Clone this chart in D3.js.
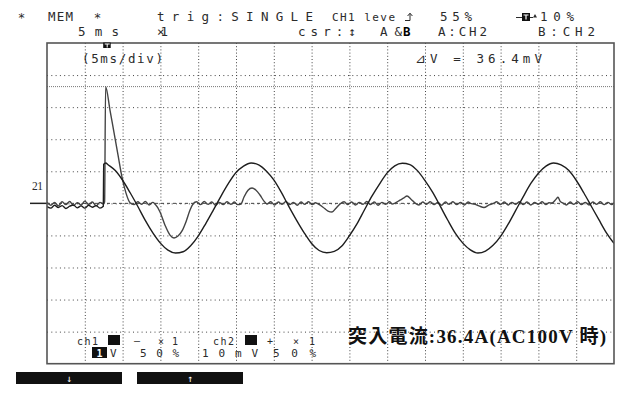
<!DOCTYPE html>
<html>
<head>
<meta charset="utf-8">
<script src="https://cdn.jsdelivr.net/npm/d3@7"></script>
<style>
  html, body { margin: 0; padding: 0; background: #fff; }
  svg { display: block; }
</style>
</head>
<body>
<svg id="scope" width="627" height="401"></svg>
<script>
// ---- acquisition settings ----
const msPerDiv = 5;
const xDivs = 15;
const yDivs = 10;
const ch1VoltsPerDiv = 1;
const ch2mVPerDiv = 10;
const trigPercent = 10;          // trigger position, % of record
const cursorA_mV = 0;            // cursor A on CH2
const cursorB_mV = 36.4;         // cursor B on CH2 (inrush peak)

// ---- CH1: supply voltage (V) ----
const ch1Time = [
  0, 0.5, 1.0, 1.5, 2.0, 2.5, 3.0, 3.5, 4.0, 4.5, 5.0, 5.5, 6.0, 6.5, 7.0, 7.45,
  7.5, 7.8,
  8, 9, 10, 11, 12, 13, 14, 15, 16, 17, 18, 19, 20, 21, 22, 23, 24, 25, 26, 27,
  28, 29, 30, 31, 32, 33, 34, 35, 36, 37, 38, 39, 40, 41, 42, 43, 44, 45, 46, 47,
  48, 49, 50, 51, 52, 53, 54, 55, 56, 57, 58, 59, 60, 61, 62, 63, 64, 65, 66, 67,
  68, 69, 70, 71, 72, 73, 74, 75
];
const ch1Volts = [
  -0.10, -0.15, -0.06, -0.13, -0.07, -0.16, -0.09, -0.05, -0.14, -0.08, -0.15, -0.06, -0.12, -0.07, -0.15, -0.09,
  1.22, 1.26,
  1.22, 1.03, 0.72, 0.33, -0.09, -0.53, -0.92, -1.24, -1.46, -1.55, -1.51, -1.32, -1.02, -0.63, -0.21, 0.22, 0.62, 0.96, 1.16, 1.26,
  1.20, 1.01, 0.73, 0.34, -0.10, -0.52, -0.91, -1.25, -1.47, -1.54, -1.50, -1.33, -1.01, -0.64, -0.20, 0.23, 0.61, 0.95, 1.17, 1.25,
  1.21, 1.02, 0.71, 0.35, -0.08, -0.52, -0.93, -1.24, -1.45, -1.55, -1.49, -1.31, -1.03, -0.65, -0.22, 0.21, 0.62, 0.94, 1.16, 1.26,
  1.20, 1.03, 0.72, 0.33, -0.09, -0.51, -0.92, -1.25
];

// ---- CH2: current probe output (mV) ----
const ch2Time = [
  0, 0.5, 1.0, 1.5, 2.0, 2.5, 3.0, 3.5, 4.0, 4.5, 5.0, 5.5, 6.0, 6.5, 7.0, 7.5,
  7.62, 7.75, 8.33, 8.86, 9.39, 9.92, 10.45, 10.98,
  11.5, 12.0, 12.5, 13.0, 13.5, 14.0,
  14.29, 14.95, 15.61, 16.27, 16.8, 17.33, 17.86, 18.39, 18.92, 19.31,
  19.8, 20.3, 20.8, 21.3, 21.8, 22.3, 22.8, 23.3, 23.8, 24.3, 24.8, 25.2,
  25.66, 26.06, 26.59, 27.12, 27.65, 28.17, 28.7, 29.1,
  29.6, 30.1, 30.6, 31.1, 31.6, 32.1, 32.6, 33.1, 33.6, 34.1, 34.6, 35.1, 35.5,
  35.85, 36.51, 37.17, 37.7, 38.23, 38.76,
  39.3, 39.8, 40.3, 40.8, 41.3, 41.8, 42.3, 42.8, 43.3, 43.8, 44.3, 44.8, 45.3, 45.7,
  46.03, 46.69, 47.22, 47.62, 48.15, 48.68,
  49.2, 49.7, 50.2, 50.7, 51.2, 51.7, 52.2, 52.7, 53.2, 53.7, 54.2, 54.7, 55.2, 55.7, 56.1,
  56.48, 57.14, 57.8, 58.47, 59.0,
  59.5, 60.0, 60.5, 61.0, 61.5, 62.0, 62.5, 63.0, 63.5, 64.0, 64.5, 65.0, 65.5, 66.0, 66.4,
  66.8, 67.33, 67.59, 67.86, 68.25,
  68.7, 69.2, 69.7, 70.2, 70.7, 71.2, 71.7, 72.2, 72.7, 73.2, 73.7, 74.2, 74.7, 75.0
];
const ch2mV = [
  0.4, -0.6, 0.3, -0.8, 0.5, -0.4, 0.6, -0.7, 0.2, -0.5, 0.7, -0.3, 0.4, -0.8, 0.3, -0.2,
  0.5, 36.4, 29.1, 22.1, 15.1, 8.2, 3.2, 0.2,
  -0.4, 0.5, -0.3, 0.6, -0.5, 0.3,
  -0.2, -2.7, -6.8, -9.9, -10.8, -10.2, -8.6, -5.7, -2.1, -0.2,
  0.5, -0.4, 0.6, -0.3, 0.4, -0.6, 0.3, -0.4, 0.5, -0.3, 0.4, -0.4,
  -0.2, 2.0, 4.1, 4.8, 4.1, 2.6, 0.7, -0.2,
  0.5, -0.5, 0.4, -0.3, 0.6, -0.4, 0.3, -0.6, 0.4, -0.3, 0.5, -0.4, 0.2,
  -0.2, -1.2, -2.4, -2.7, -1.5, -0.2,
  0.5, -0.4, 0.4, -0.5, 0.3, -0.3, 0.6, -0.4, 0.4, -0.6, 0.3, -0.3, 0.5, -0.2,
  0.1, 1.0, 1.7, 2.3, 1.3, 0.1,
  -0.5, 0.4, -0.3, 0.5, -0.4, 0.3, -0.6, 0.4, -0.3, 0.5, -0.4, 0.3, -0.5, 0.4, -0.1,
  -0.2, -0.8, -1.3, -0.5, -0.1,
  0.5, -0.4, 0.4, -0.5, 0.3, -0.3, 0.5, -0.4, 0.4, -0.5, 0.3, -0.3, 0.5, -0.4, 0.2,
  0.1, 1.3, 1.9, 0.7, 0.1,
  -0.5, 0.4, -0.3, 0.5, -0.4, 0.3, -0.5, 0.4, -0.3, 0.5, -0.4, 0.3, -0.4, 0.2
];

// ---- status text ----
const statusTop = ["*", "MEM", "*", "trig:SINGLE", "CH1 leve", "55%", "10%"];
const statusSub = ["5ms", "×1", "csr:↕", "A&", "B", "A:CH2", "B:CH2"];
const screenTop = ["(5ms/div)", "⊿V = 36.4mV"];
const chanRow1 = ["ch1", "—", "× 1", "ch2", "+", "× 1"];
const chanRow2 = ["1", "V", "50%", "10mV", "50%"];
const keyArrows = ["↓", "↑"];
const caption = "突入電流:36.4A(AC100V 時)";
const markerLabel = "21";

// ---- layout ----
const L = 47, R = 614, T = 43, B = 363.7;
const mono = "'DejaVu Sans Mono', 'Liberation Mono', monospace";
const ink = "#2b2b2b";
const fs = 12.5;
const fsSmall = 10;

const svg = d3.select("#scope");

const x = d3.scaleLinear().domain([0, msPerDiv * xDivs]).range([L, R]);
const yDiv = d3.scaleLinear().domain([-yDivs / 2, yDivs / 2]).range([B, T]);
const y1 = d3.scaleLinear().domain([-yDivs / 2 * ch1VoltsPerDiv, yDivs / 2 * ch1VoltsPerDiv]).range([B, T]);
const y2 = d3.scaleLinear().domain([-yDivs / 2 * ch2mVPerDiv, yDivs / 2 * ch2mVPerDiv]).range([B, T]);

// ---- graticule ----
const xTicks = d3.range(1, xDivs).map(i => i * msPerDiv);
const yTicks = d3.range(-yDivs / 2 + 1, yDivs / 2);

const gx = svg.append("g")
  .attr("transform", `translate(0,${T})`)
  .call(d3.axisTop(x).tickValues(xTicks).tickSize(-(B - T)).tickFormat(""));
gx.select(".domain").remove();
gx.selectAll(".tick line")
  .attr("stroke", "#444").attr("stroke-width", 1)
  .attr("stroke-dasharray", "1,2.2");

const gy = svg.append("g")
  .attr("transform", `translate(${L},0)`)
  .call(d3.axisLeft(yDiv).tickValues(yTicks).tickSize(-(R - L)).tickFormat(""));
gy.select(".domain").remove();
gy.selectAll(".tick line")
  .attr("stroke", "#444").attr("stroke-width", 1)
  .attr("stroke-dasharray", "1,3.3");

// cursor B (dense dots) and cursor A (dashes)
svg.append("line")
  .attr("x1", L).attr("x2", R)
  .attr("y1", y2(cursorB_mV)).attr("y2", y2(cursorB_mV))
  .attr("stroke", "#777").attr("stroke-width", 1).attr("stroke-dasharray", "1,1");
svg.append("line")
  .attr("x1", L).attr("x2", R)
  .attr("y1", y2(cursorA_mV)).attr("y2", y2(cursorA_mV))
  .attr("stroke", "#444").attr("stroke-width", 1).attr("stroke-dasharray", "3,3");

// ground marker left of the screen
svg.append("line")
  .attr("x1", 30).attr("x2", L)
  .attr("y1", yDiv(0)).attr("y2", yDiv(0))
  .attr("stroke", "#222").attr("stroke-width", 1.5);
svg.append("text")
  .attr("x", 32).attr("y", yDiv(0) - 13)
  .attr("font-family", "'Liberation Serif', serif").attr("font-size", 11.5)
  .attr("fill", ink).attr("textLength", 11).attr("lengthAdjust", "spacing")
  .text(markerLabel);

// ---- traces ----
svg.append("clipPath").attr("id", "screen")
  .append("rect").attr("x", L).attr("y", T).attr("width", R - L).attr("height", B - T);

const line1 = d3.line().x((d, i) => x(ch1Time[i])).y(d => y1(d)).curve(d3.curveMonotoneX);
const line2 = d3.line().x((d, i) => x(ch2Time[i])).y(d => y2(d)).curve(d3.curveMonotoneX);

svg.append("path")
  .attr("clip-path", "url(#screen)")
  .attr("d", line2(ch2mV))
  .attr("fill", "none").attr("stroke", "#444").attr("stroke-width", 1.4)
  .attr("stroke-linejoin", "round");
svg.append("path")
  .attr("clip-path", "url(#screen)")
  .attr("d", line1(ch1Volts))
  .attr("fill", "none").attr("stroke", "#1e1e1e").attr("stroke-width", 1.4)
  .attr("stroke-linejoin", "round");

// screen frame
svg.append("rect")
  .attr("x", L).attr("y", T).attr("width", R - L).attr("height", B - T)
  .attr("fill", "none").attr("stroke", "#555").attr("stroke-width", 1.6);

// trigger position flag on the top edge
const trigX = x(msPerDiv * xDivs * trigPercent / 100);
svg.append("rect").attr("x", trigX - 0.5).attr("y", T - 0.5).attr("width", 7.5).attr("height", 5.5).attr("fill", "#111");
svg.append("path")
  .attr("d", `M${trigX + 1},${T + 1} H${trigX + 6} M${trigX + 3.5},${T + 1} V${T + 4.5}`)
  .attr("stroke", "#fff").attr("stroke-width", 1);

// ---- text helper ----
function txt(s, x0, yb, opt = {}) {
  const t = svg.append("text")
    .attr("x", x0).attr("y", yb)
    .attr("font-family", opt.font || mono)
    .attr("font-size", opt.size || fs)
    .attr("font-weight", opt.weight || "normal")
    .attr("fill", opt.fill || ink)
    .text(s);
  if (opt.len) t.attr("textLength", opt.len).attr("lengthAdjust", "spacing");
  if (opt.anchor) t.attr("text-anchor", opt.anchor);
  return t;
}

// top status line
txt(statusTop[0], 21.5, 21.5, { anchor: "middle", size: 12.5 });
txt(statusTop[1], 48, 21, { len: 25 });
txt(statusTop[2], 97.5, 21.5, { anchor: "middle", size: 12.5 });
txt(statusTop[3], 157, 21, { len: 156 });
txt(statusTop[4], 332, 20.5, { len: 63, size: 11 });
txt(statusTop[5], 440, 21, { len: 32 });
txt(statusTop[6], 540, 21, { len: 34 });

// rising-edge trigger slope symbol
svg.append("path")
  .attr("d", "M405,20.5 H410 V13.5 M407.6,16 L410,13.2 L412.4,16")
  .attr("fill", "none").attr("stroke", ink).attr("stroke-width", 1);

// pre-trigger indicator -[T]-▲
svg.append("path").attr("d", "M516,17.5 H522 M530,17.5 H533")
  .attr("stroke", ink).attr("stroke-width", 1.2);
svg.append("rect").attr("x", 522).attr("y", 13).attr("width", 8).attr("height", 8).attr("fill", "#111");
svg.append("path").attr("d", "M523.5,15 H528.5 M526,15 V19.5").attr("stroke", "#fff").attr("stroke-width", 1.2);
svg.append("path").attr("d", "M533,17.5 L535,14 L537,17.5 Z").attr("fill", ink);

// second status line
txt(statusSub[0], 78, 36, { len: 41 });
txt(statusSub[1], 157, 36, { len: 11 });
txt(statusSub[2], 298, 36, { len: 58 });
txt(statusSub[3], 380, 36, { len: 22 });
txt(statusSub[4], 403, 36, { weight: "bold", fill: "#000", size: 12.5 });
txt(statusSub[5], 438, 36, { len: 49 });
txt(statusSub[6], 538, 36, { len: 57 });

// on-screen readouts
txt(screenTop[0], 82, 63, { len: 81 });
txt(screenTop[1], 415, 63, { len: 127 });

// channel settings block
const rowA = 344.5, rowB = 357;
txt(chanRow1[0], 77, rowA, { len: 21, size: fsSmall });
svg.append("rect").attr("x", 108).attr("y", 335).attr("width", 12).attr("height", 10).attr("fill", "#111");
txt(chanRow1[1], 134, rowA - 1, { len: 9, size: fsSmall });
txt(chanRow1[2], 158, rowA, { len: 20, size: fsSmall });
txt(chanRow1[3], 213, rowA, { len: 21, size: fsSmall });
svg.append("rect").attr("x", 245).attr("y", 335).attr("width", 12).attr("height", 10).attr("fill", "#111");
txt(chanRow1[4], 267, rowA, { len: 9, size: fsSmall });
txt(chanRow1[5], 293, rowA, { len: 22, size: fsSmall });

svg.append("rect").attr("x", 92).attr("y", 347).attr("width", 15).attr("height", 11).attr("fill", "#111");
txt(chanRow2[0], 99.5, rowB, { anchor: "middle", fill: "#fff", weight: "bold", size: fsSmall });
txt(chanRow2[1], 110, rowB, { size: fsSmall + 1 });
txt(chanRow2[2], 140, rowB, { len: 39, size: fsSmall + 1 });
txt(chanRow2[3], 202, rowB, { len: 56, size: fsSmall + 1 });
txt(chanRow2[4], 273, rowB, { len: 43, size: fsSmall + 1 });

// caption
txt(caption, 348, 343, {
  font: "'Liberation Serif', 'Noto Sans CJK JP', serif",
  size: 19, weight: "bold", fill: "#111", len: 258
});

// soft-key bar
[[16, 122], [137, 243]].forEach((k, i) => {
  svg.append("rect").attr("x", k[0]).attr("y", 372).attr("width", k[1] - k[0]).attr("height", 12).attr("fill", "#111");
  txt(keyArrows[i], (k[0] + k[1]) / 2, 382, { anchor: "middle", fill: "#fff", size: 10 });
});
</script>
</body>
</html>
